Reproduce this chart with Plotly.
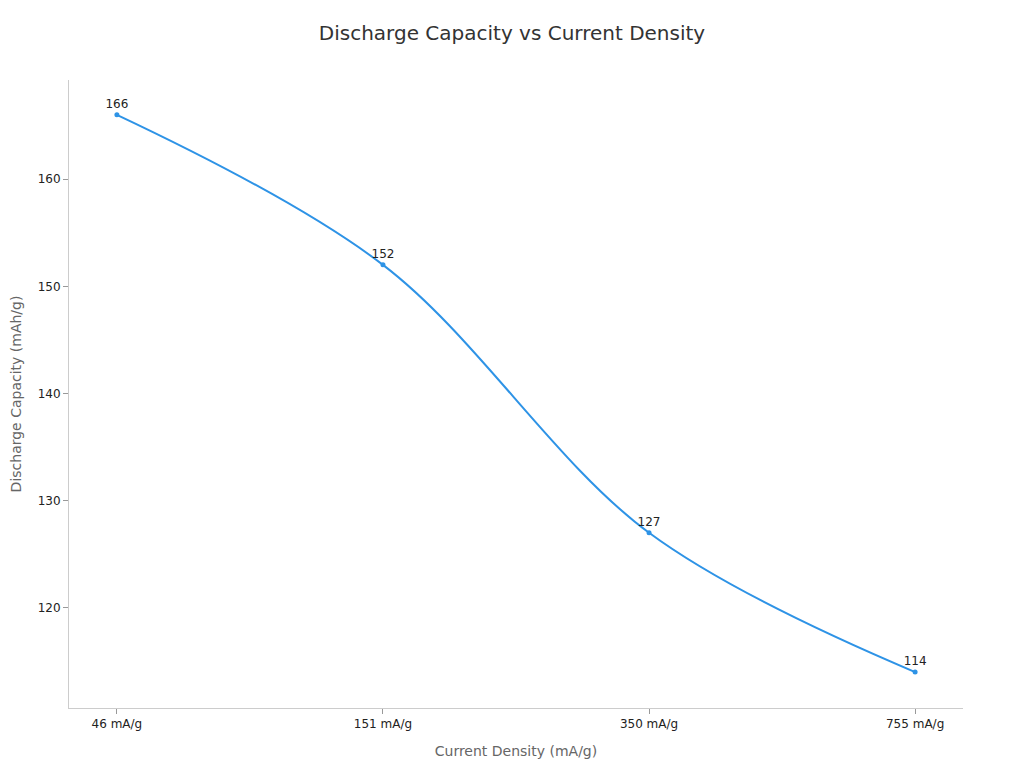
import plotly.graph_objects as go

densities = ["46 mA/g", "151 mA/g", "350 mA/g", "755 mA/g"]
capacity = [166, 152, 127, 114]

fig = go.Figure()
fig.add_trace(go.Scatter(
    x=densities,
    y=capacity,
    mode="lines+markers+text",
    line=dict(color="#2e93e6", width=2, shape="spline", smoothing=1.0),
    marker=dict(size=5, color="#2e93e6"),
    text=[str(v) for v in capacity],
    textposition="top center",
    textfont=dict(size=12, color="#222222"),
    showlegend=False,
))

# the page body keeps an 8px margin, so the figure is sized to the visible area
fig.update_layout(
    width=1008,
    height=752,
    font=dict(family="DejaVu Sans", color="#222222"),
    title=dict(
        text="Discharge Capacity vs Current Density",
        x=0.5,
        xanchor="center",
        y=0.967,
        yanchor="middle",
        font=dict(size=20, color="#333333"),
    ),
    plot_bgcolor="white",
    paper_bgcolor="white",
    margin=dict(l=61, r=53, t=72, b=52),
    xaxis=dict(
        title=dict(text="Current Density (mA/g)", font=dict(size=14, color="#666666"), standoff=15),
        automargin=False,
        range=[-0.18, 3.18],
        showgrid=False,
        showline=True,
        linecolor="#cccccc",
        linewidth=1,
        ticks="outside",
        ticklen=5,
        tickcolor="#999999",
        tickfont=dict(size=12),
        zeroline=False,
    ),
    yaxis=dict(
        title=dict(text="Discharge Capacity (mAh/g)", font=dict(size=14, color="#666666"), standoff=20),
        automargin=False,
        range=[110.65, 169.25],
        dtick=10,
        showgrid=False,
        showline=True,
        linecolor="#cccccc",
        linewidth=1,
        ticks="outside",
        ticklen=5,
        tickcolor="#999999",
        tickfont=dict(size=12),
        zeroline=False,
    ),
)

fig.write_html("out.html")
